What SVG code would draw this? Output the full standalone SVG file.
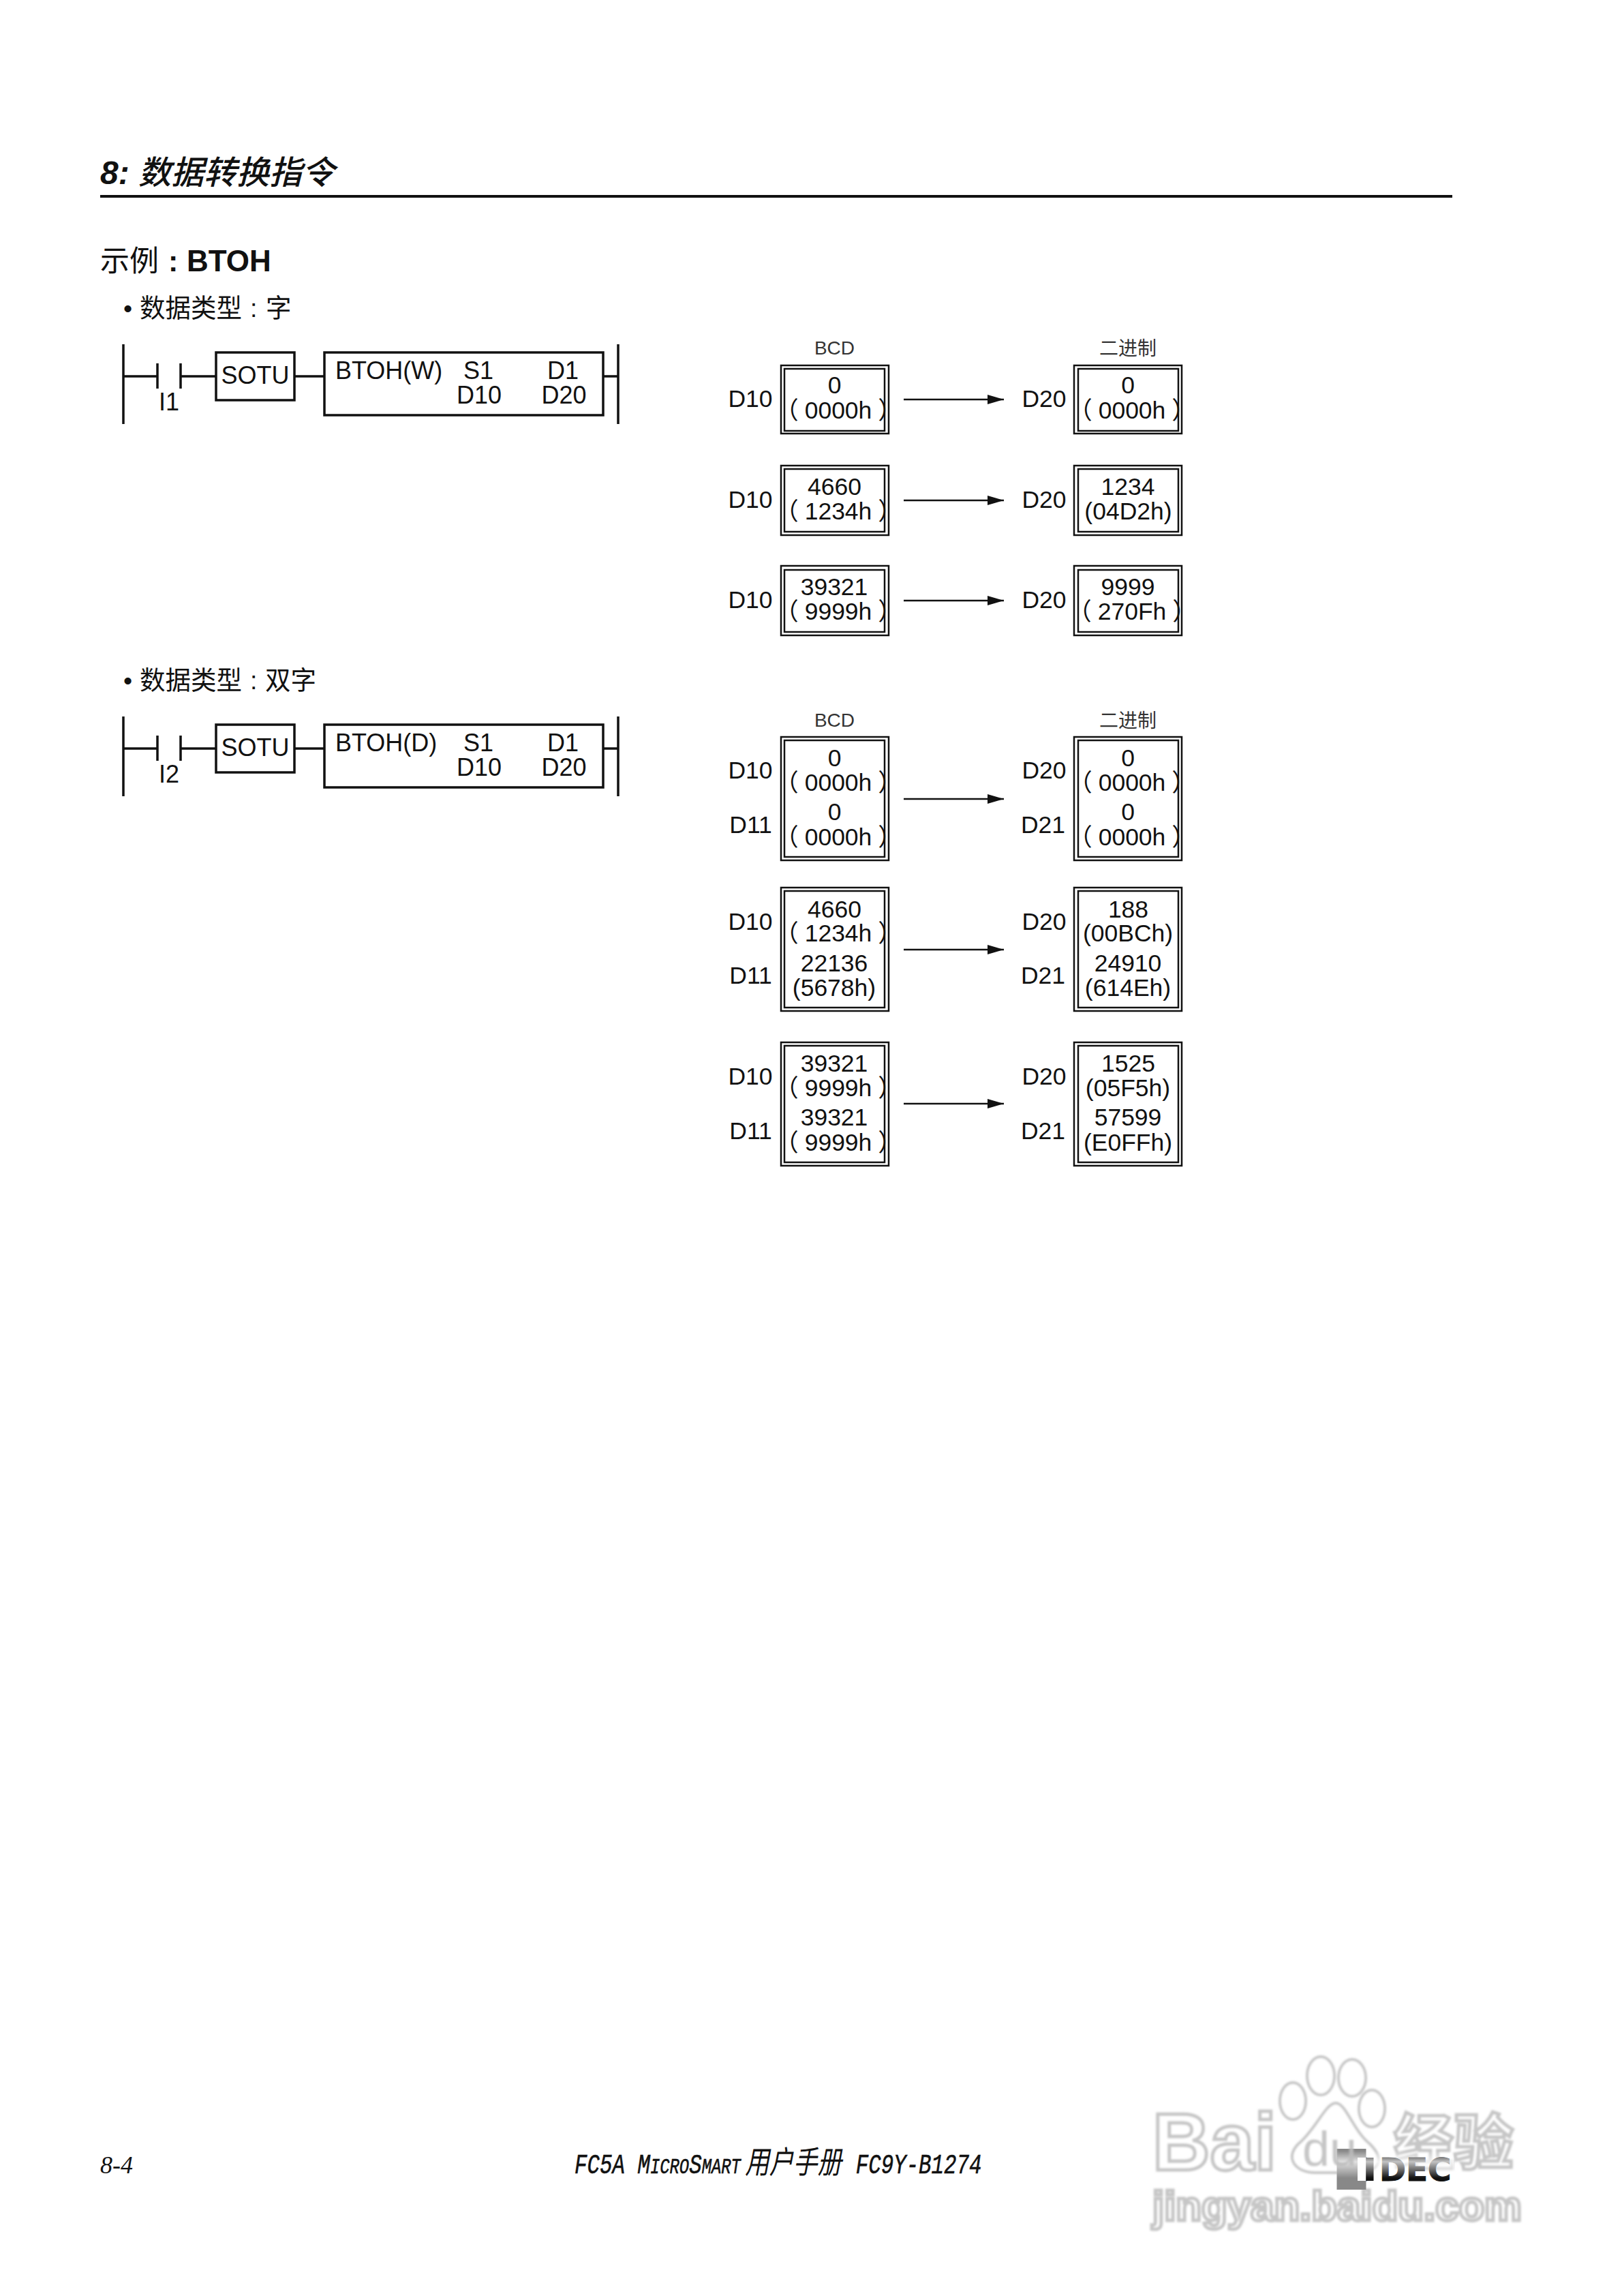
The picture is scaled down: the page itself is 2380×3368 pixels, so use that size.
<svg xmlns="http://www.w3.org/2000/svg" width="2380" height="3368" viewBox="0 0 2380 3368">
<style>
text{font-family:"Liberation Sans","Noto Sans CJK SC",sans-serif;fill:#111}
.l{stroke:#111;stroke-width:3.5;fill:none}
.b{fill:#fff;stroke:#111;stroke-width:3.5}
.t{font-size:36px}
.v{font-size:35.5px;text-anchor:middle}
.c{text-anchor:middle}
.o{fill:none;stroke:#111;stroke-width:2.5}
.a{stroke:#111;stroke-width:2.5;fill:none;marker-end:url(#arr)}
.h{font-size:28px;text-anchor:middle;fill:#333}
.s{font-size:37.5px}
.m{font-family:"Liberation Mono","Noto Sans CJK SC",monospace;font-style:italic;stroke:#111;stroke-width:.6}
.w{fill:#fff;stroke:#c6c6c6;stroke-width:5;font-weight:bold}
.p{fill:#fff;stroke:#c6c6c6;stroke-width:4}
</style>
<defs>
<marker id="arr" markerUnits="userSpaceOnUse" markerWidth="24" markerHeight="16" refX="24" refY="8" orient="auto"><path d="M0 1L24 8L0 15Z" fill="#111"/></marker>
<filter id="blur" x="-5%" y="-5%" width="110%" height="110%"><feGaussianBlur stdDeviation="1.5"/></filter>
<linearGradient id="fade" x1="0" y1="0" x2="0" y2="1"><stop offset="0" stop-color="#fff" stop-opacity="0"/><stop offset=".4" stop-color="#fff" stop-opacity=".75"/><stop offset="1" stop-color="#fff" stop-opacity="0"/></linearGradient>
<clipPath id="idecClip"><rect x="2004.5" y="3140" width="140" height="80"/></clipPath>
</defs>
<rect width="2380" height="3368" fill="#fff"/>

<g id="header">
<text x="147" y="270" font-size="48" font-style="italic"><tspan font-weight="bold">8:</tspan><tspan x="203" font-weight="500">数据转换指令</tspan></text>
<rect x="147" y="286" width="1984" height="4" fill="#111"/>
</g>
<g id="headings">
<text x="147" y="398" font-size="43">示例<tspan x="247" font-weight="bold">:</tspan><tspan x="274" font-size="44" font-weight="bold">BTOH</tspan></text>
<text x="181" y="465" class="s">•</text>
<text x="205" y="465" class="s">数据类型<tspan x="367">:</tspan><tspan x="390">字</tspan></text>
<text x="181" y="1011" class="s">•</text>
<text x="205" y="1011" class="s">数据类型<tspan x="367">:</tspan><tspan x="389">双字</tspan></text>
</g>

<g id="ladder-word">
<path class="l" d="M181 505V622M907 505V622M181 552H231M231 533V570M265 533V570M265 552H317M432 552H476M884 552H907"/>
<g id="sotu-1"><rect class="b" x="317" y="517" width="115" height="70"/><text class="t c" x="374.500" y="563">SOTU</text></g>
<g id="btoh-w"><rect class="b" x="476" y="517" width="409" height="92"/>
<text class="t" x="492" y="556">BTOH(W)</text><text class="t c" x="702" y="556">S1</text><text class="t c" x="826" y="556">D1</text>
<text class="t c" x="703" y="592">D10</text><text class="t c" x="827.500" y="592">D20</text></g>
<text class="t c" x="248" y="602">I1</text>
</g>
<g id="ladder-dword">
<path class="l" d="M181 1051V1168M907 1051V1168M181 1098H231M231 1079V1116M265 1079V1116M265 1098H317M432 1098H476M884 1098H907"/>
<g id="sotu-2"><rect class="b" x="317" y="1063" width="115" height="70"/><text class="t c" x="374.500" y="1109">SOTU</text></g>
<g id="btoh-d"><rect class="b" x="476" y="1063" width="409" height="92"/>
<text class="t" x="492" y="1102">BTOH(D)</text><text class="t c" x="702" y="1102">S1</text><text class="t c" x="826" y="1102">D1</text>
<text class="t c" x="703" y="1138">D10</text><text class="t c" x="827.500" y="1138">D20</text></g>
<text class="t c" x="248" y="1148">I2</text>
</g>

<g id="connectors">
<line class="a" x1="1326" y1="586" x2="1473" y2="586"/>
<line class="a" x1="1326" y1="734" x2="1473" y2="734"/>
<line class="a" x1="1326" y1="881" x2="1473" y2="881"/>
<line class="a" x1="1326" y1="1172" x2="1473" y2="1172"/>
<line class="a" x1="1326" y1="1393" x2="1473" y2="1393"/>
<line class="a" x1="1326" y1="1619" x2="1473" y2="1619"/>
</g>

<g id="captions">
<text class="h" x="1224.500" y="520">BCD</text><text class="h" x="1655" y="521">二进制</text>
<text class="h" x="1224.500" y="1066">BCD</text><text class="h" x="1655" y="1067">二进制</text>
</g>

<g id="w1-src"><rect class="o" x="1146" y="536" width="158" height="100"/><rect class="o" x="1151" y="541" width="147" height="91"/>
<text class="v" x="1101" y="597">D10</text><text class="v" x="1224.500" y="577">0</text><text class="v" x="1230" y="614">（<tspan dx="9">0000h</tspan><tspan dx="9">）</tspan></text></g>
<g id="w1-dst"><rect class="o" x="1576" y="536" width="158" height="100"/><rect class="o" x="1582" y="541" width="147" height="91"/>
<text class="v" x="1532" y="597">D20</text><text class="v" x="1655" y="577">0</text><text class="v" x="1661" y="614">（<tspan dx="9">0000h</tspan><tspan dx="9">）</tspan></text></g>
<g id="w2-src"><rect class="o" x="1146" y="683" width="158" height="102"/><rect class="o" x="1151" y="688" width="147" height="92"/>
<text class="v" x="1101" y="745">D10</text><text class="v" x="1224.500" y="726">4660</text><text class="v" x="1230" y="762">（<tspan dx="9">1234h</tspan><tspan dx="9">）</tspan></text></g>
<g id="w2-dst"><rect class="o" x="1576" y="683" width="158" height="102"/><rect class="o" x="1582" y="688" width="147" height="92"/>
<text class="v" x="1532" y="745">D20</text><text class="v" x="1655" y="726">1234</text><text class="v" x="1655.500" y="762">(04D2h)</text></g>
<g id="w3-src"><rect class="o" x="1146" y="830" width="158" height="102"/><rect class="o" x="1151" y="836" width="147" height="91"/>
<text class="v" x="1101" y="892">D10</text><text class="v" x="1224" y="873">39321</text><text class="v" x="1230" y="909">（<tspan dx="9">9999h</tspan><tspan dx="9">）</tspan></text></g>
<g id="w3-dst"><rect class="o" x="1576" y="830" width="158" height="102"/><rect class="o" x="1582" y="836" width="147" height="91"/>
<text class="v" x="1532" y="892">D20</text><text class="v" x="1655" y="873">9999</text><text class="v" x="1661" y="909">（<tspan dx="9">270Fh</tspan><tspan dx="9">）</tspan></text></g>

<g id="d1-src"><rect class="o" x="1146" y="1081" width="158" height="181"/><rect class="o" x="1151" y="1086" width="147" height="171"/>
<text class="v" x="1101" y="1142">D10</text><text class="v" x="1101.500" y="1222">D11</text>
<text class="v" x="1224.500" y="1124">0</text><text class="v" x="1230" y="1160">（<tspan dx="9">0000h</tspan><tspan dx="9">）</tspan></text><text class="v" x="1224.500" y="1203">0</text><text class="v" x="1230" y="1240">（<tspan dx="9">0000h</tspan><tspan dx="9">）</tspan></text></g>
<g id="d1-dst"><rect class="o" x="1576" y="1081" width="158" height="181"/><rect class="o" x="1582" y="1086" width="147" height="171"/>
<text class="v" x="1532" y="1142">D20</text><text class="v" x="1530.500" y="1222">D21</text>
<text class="v" x="1655" y="1124">0</text><text class="v" x="1661" y="1160">（<tspan dx="9">0000h</tspan><tspan dx="9">）</tspan></text><text class="v" x="1655" y="1203">0</text><text class="v" x="1661" y="1240">（<tspan dx="9">0000h</tspan><tspan dx="9">）</tspan></text></g>
<g id="d2-src"><rect class="o" x="1146" y="1302" width="158" height="181"/><rect class="o" x="1151" y="1307" width="147" height="171"/>
<text class="v" x="1101" y="1364">D10</text><text class="v" x="1101.500" y="1443">D11</text>
<text class="v" x="1224.500" y="1346">4660</text><text class="v" x="1230" y="1381">（<tspan dx="9">1234h</tspan><tspan dx="9">）</tspan></text><text class="v" x="1224" y="1425">22136</text><text class="v" x="1224" y="1461">(5678h)</text></g>
<g id="d2-dst"><rect class="o" x="1576" y="1302" width="158" height="181"/><rect class="o" x="1582" y="1307" width="147" height="171"/>
<text class="v" x="1532" y="1364">D20</text><text class="v" x="1530.500" y="1443">D21</text>
<text class="v" x="1655.500" y="1346">188</text><text class="v" x="1655" y="1381">(00BCh)</text><text class="v" x="1655" y="1425">24910</text><text class="v" x="1655" y="1461">(614Eh)</text></g>
<g id="d3-src"><rect class="o" x="1146" y="1529" width="158" height="181"/><rect class="o" x="1151" y="1534" width="147" height="171"/>
<text class="v" x="1101" y="1591">D10</text><text class="v" x="1101.500" y="1671">D11</text>
<text class="v" x="1224" y="1572">39321</text><text class="v" x="1230" y="1608">（<tspan dx="9">9999h</tspan><tspan dx="9">）</tspan></text><text class="v" x="1224" y="1651">39321</text><text class="v" x="1230" y="1688">（<tspan dx="9">9999h</tspan><tspan dx="9">）</tspan></text></g>
<g id="d3-dst"><rect class="o" x="1576" y="1529" width="158" height="181"/><rect class="o" x="1582" y="1534" width="147" height="171"/>
<text class="v" x="1532" y="1591">D20</text><text class="v" x="1530.500" y="1671">D21</text>
<text class="v" x="1655.500" y="1572">1525</text><text class="v" x="1655" y="1608">(05F5h)</text><text class="v" x="1655" y="1651">57599</text><text class="v" x="1655" y="1688">(E0FFh)</text></g>

<g id="footer">
<text x="147" y="3188" font-size="36" style="font-family:'Liberation Serif',serif;font-style:italic" textLength="48" lengthAdjust="spacingAndGlyphs">8-4</text>
<text class="m" transform="translate(843 3188) scale(.77 1)" font-size="40">FC5A <tspan>M</tspan><tspan font-size="31">ICRO</tspan><tspan>S</tspan><tspan font-size="31">MART</tspan><tspan x="325" font-size="46" style="stroke:none">用户手册</tspan><tspan x="536">FC9Y-B1274</tspan></text>
</g>

<g id="watermark" filter="url(#blur)">
<ellipse class="p" cx="1897" cy="3082" rx="19" ry="27"/>
<ellipse class="p" cx="1938" cy="3045" rx="20" ry="28"/>
<ellipse class="p" cx="1984" cy="3048" rx="20" ry="27"/>
<ellipse class="p" cx="2013" cy="3093" rx="19" ry="27"/>
<path class="p" d="M1960 3085C1975 3085 1985 3125 2010 3145C2035 3170 2020 3187 1990 3187H1930C1900 3187 1885 3165 1905 3145C1930 3125 1945 3085 1960 3085Z"/>
<text class="w" x="1691" y="3183" font-size="118" textLength="182" lengthAdjust="spacingAndGlyphs">Bai</text>
<text class="w" x="2045" y="3174" font-size="88">经验</text>
<text class="w" x="1691" y="3257" font-size="62" textLength="542" lengthAdjust="spacingAndGlyphs">jingyan.baidu.com</text>
</g>

<g id="logo">
<rect x="1961.500" y="3152" width="43" height="60" fill="#888"/>
<rect x="1992" y="3165" width="12.500" height="34" fill="#fff"/>
<rect x="2004.500" y="3165" width="11" height="34" fill="#111"/>
<text clip-path="url(#idecClip)" x="1992" y="3199" font-size="47" font-weight="bold" style="font-family:'DejaVu Sans',sans-serif;fill:#111;stroke:#111;stroke-width:1">I<tspan x="2024">DEC</tspan></text>
<rect x="1961" y="3155" width="172" height="40" fill="url(#fade)"/>
</g>
<g id="watermark-du" filter="url(#blur)">
<text x="1911" y="3177" font-size="72" style="fill:#bdbdbd" opacity=".85">du</text>
</g>
</svg>
